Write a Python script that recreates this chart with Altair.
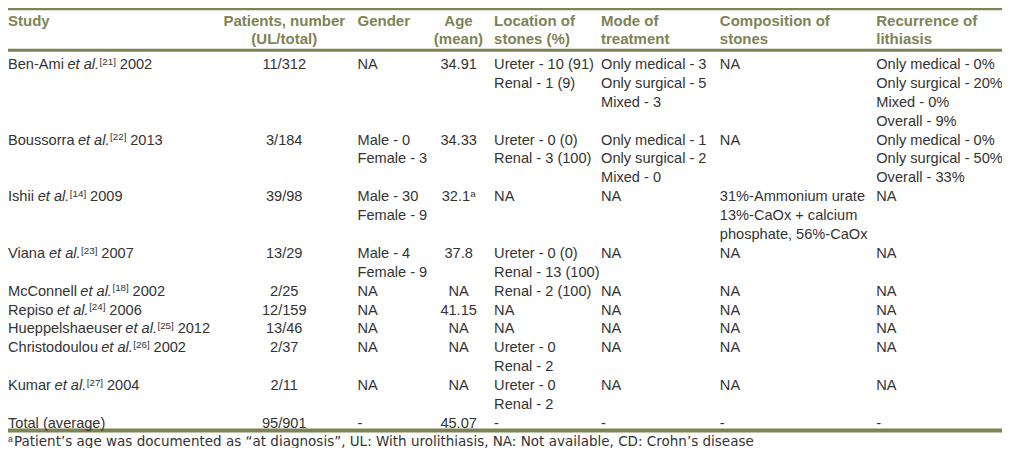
import altair as alt
import pandas as pd

# ---------------- data (cell texts) ----------------
HEADERS = [["Study"], ["Patients, number", "(UL/total)"], ["Gender"], ["Age", "(mean)"],
           ["Location of", "stones (%)"], ["Mode of", "treatment"],
           ["Composition of", "stones"], ["Recurrence of", "lithiasis"]]
AUTHORS = ["Ben-Ami", "Boussorra", "Ishii", "Viana", "McConnell", "Repiso",
           "Hueppelshaeuser", "Christodoulou", "Kumar"]
REFS = ["21", "22", "14", "23", "18", "24", "25", "26", "27"]
YEARS = ["2002", "2013", "2009", "2007", "2002", "2006", "2012", "2002", "2004"]
TOTAL_LABEL = "Total (average)"
PATIENTS = ["11/312", "3/184", "39/98", "13/29", "2/25", "12/159", "13/46", "2/37", "2/11", "95/901"]
GENDER = [["NA"], ["Male - 0", "Female - 3"], ["Male - 30", "Female - 9"], ["Male - 4", "Female - 9"],
          ["NA"], ["NA"], ["NA"], ["NA"], ["NA"], ["-"]]
AGE = ["34.91", "34.33", "32.1", "37.8", "NA", "41.15", "NA", "NA", "NA", "45.07"]
AGE_NOTE = ["", "", "a", "", "", "", "", "", "", ""]
LOCATION = [["Ureter - 10 (91)", "Renal - 1 (9)"], ["Ureter - 0 (0)", "Renal - 3 (100)"], ["NA"],
            ["Ureter - 0 (0)", "Renal - 13 (100)"], ["Renal - 2 (100)"], ["NA"], ["NA"],
            ["Ureter - 0", "Renal - 2"], ["Ureter - 0", "Renal - 2"], ["-"]]
MODE = [["Only medical - 3", "Only surgical - 5", "Mixed - 3"],
        ["Only medical - 1", "Only surgical - 2", "Mixed - 0"],
        ["NA"], ["NA"], ["NA"], ["NA"], ["NA"], ["NA"], ["NA"], ["-"]]
COMPOSITION = [["NA"], ["NA"], ["31%-Ammonium urate", "13%-CaOx + calcium", "phosphate, 56%-CaOx"],
               ["NA"], ["NA"], ["NA"], ["NA"], ["NA"], ["NA"], ["-"]]
RECURRENCE = [["Only medical - 0%", "Only surgical - 20%", "Mixed - 0%", "Overall - 9%"],
              ["Only medical - 0%", "Only surgical - 50%", "Overall - 33%"],
              ["NA"], ["NA"], ["NA"], ["NA"], ["NA"], ["NA"], ["NA"], ["-"]]
FOOT_MARK = "a"
FOOTNOTE = ("Patient\u2019s age was documented as \u201cat diagnosis\u201d, UL: With urolithiasis, "
            "NA: Not available, CD: Crohn\u2019s disease")

# ---------------- layout / style ----------------
FONT = "Liberation Sans"
FOOT_FONT = "DejaVu Sans"
FS, FS_HEAD, FS_SUP, FS_FOOT = 14.6, 15, 9.8, 13.5
OLIVE = "#7e8356"
INK = "#333333"
X_STUDY = 4
X_CENTER = {"patients": 283, "age": 459}
X_LEFT = {"gender": 357, "location": 495, "mode": 603, "composition": 723, "recurrence": 881}
HEAD_Y = [13, 32]
LINE0, LINE_H = 57.5, 19.4
CAP_HALF = 5.2
SUP_RAISE = 4.3
FOOT_Y = 445

# Helvetica / Arial advance widths (1/1000 em)
_W = {' ': 278, '!': 278, '"': 355, '%': 889, '&': 667, "'": 191, '(': 333, ')': 333, '+': 584,
      ',': 278, '-': 333, '.': 278, '/': 278, ':': 278, ';': 278, '[': 278, ']': 278,
      '\u2019': 222, '\u201c': 333, '\u201d': 333}
for c in "0123456789":
    _W[c] = 556
_W.update(dict(zip("ABCDEFGHIJKLMNOPQRSTUVWXYZ",
                   [667, 667, 722, 722, 667, 611, 778, 722, 278, 500, 667, 556, 833, 722, 778,
                    667, 778, 722, 667, 611, 722, 667, 944, 667, 667, 611])))
_W.update(dict(zip("abcdefghijklmnopqrstuvwxyz",
                   [556, 556, 500, 556, 556, 278, 556, 556, 222, 222, 500, 222, 833, 556, 556,
                    556, 556, 333, 500, 278, 556, 500, 722, 500, 500, 500])))


def tw(s, size):
    return sum(_W.get(c, 556) for c in s) * size / 1000.0


items = []


def add(x, y, text, kind):
    items.append({"x": x, "y": y, "text": text, "kind": kind})


# headers
cols = ["study", "patients", "gender", "age", "location", "mode", "composition", "recurrence"]
for key, lines in zip(cols, HEADERS):
    for j, t in enumerate(lines):
        yb = HEAD_Y[j] + CAP_HALF
        if key in X_CENTER:
            add(X_CENTER[key], yb, t, "headC")
        elif key == "study":
            add(X_STUDY, yb, t, "head")
        else:
            add(X_LEFT[key], yb, t, "head")

# body rows
line = 0
n_rows = len(PATIENTS)
for r in range(n_rows):
    yb = LINE0 + LINE_H * line + CAP_HALF
    if r < len(AUTHORS):
        x = X_STUDY
        add(x, yb, AUTHORS[r], "body")
        x += tw(AUTHORS[r] + " ", FS)
        add(x, yb, "et al.", "ital")
        x += tw("et al.", FS) + 0.8
        ref = "[" + REFS[r] + "]"
        add(x, yb - SUP_RAISE, ref, "sup")
        x += tw(ref, FS_SUP) + tw(" ", FS)
        add(x, yb, YEARS[r], "body")
    else:
        add(X_STUDY, yb, TOTAL_LABEL, "body")
    add(X_CENTER["patients"], yb, PATIENTS[r], "bodyC")
    # age, with optional note mark
    wa = tw(AGE[r], FS) + tw(AGE_NOTE[r], FS_SUP)
    xa = X_CENTER["age"] - wa / 2
    add(xa, yb, AGE[r], "body")
    if AGE_NOTE[r]:
        add(xa + tw(AGE[r], FS) + 0.5, yb - SUP_RAISE, AGE_NOTE[r], "sup")
    n_lines = 1
    for key, colvals in [("gender", GENDER), ("location", LOCATION), ("mode", MODE),
                         ("composition", COMPOSITION), ("recurrence", RECURRENCE)]:
        for j, t in enumerate(colvals[r]):
            add(X_LEFT[key], yb + LINE_H * j, t, "body")
        n_lines = max(n_lines, len(colvals[r]))
    line += n_lines

# footnote
fb = FOOT_Y + 4.8
add(X_STUDY, fb - 3.5, FOOT_MARK, "supF")
add(X_STUDY + 6.0, fb, FOOTNOTE, "foot")

df = pd.DataFrame(items)

RULE_Y = [1.0, 43.5, 434.0]
RULE_W = [2.5, 3.0, 4.0]
rules = pd.DataFrame({"y": RULE_Y, "w": RULE_W, "x": [-20] * 3, "x2": [1040] * 3})

XS = alt.Scale(domain=[4, 1008], range=[0, 994], nice=False, zero=False)
YS = alt.Scale(domain=[0, 452], range=[0, 440], nice=False, zero=False)

base = alt.Chart(df).encode(
    x=alt.X("x:Q", scale=XS, axis=None),
    y=alt.Y("y:Q", scale=YS, axis=None),
    text="text:N",
)


def layer(kind, **kw):
    opts = dict(font=FONT, fontSize=FS, color=INK, align="left", baseline="alphabetic")
    opts.update(kw)
    return base.transform_filter(alt.datum.kind == kind).mark_text(**opts)


rule_layer = alt.Chart(rules).mark_rule(color=OLIVE).encode(
    x=alt.X("x:Q", scale=XS, axis=None),
    x2="x2:Q",
    y=alt.Y("y:Q", scale=YS, axis=None),
    size=alt.Size("w:Q", scale=None, legend=None),
)

chart = alt.layer(
    rule_layer,
    layer("head", fontSize=FS_HEAD, fontWeight="bold", color=OLIVE),
    layer("headC", fontSize=FS_HEAD, fontWeight="bold", color=OLIVE, align="center"),
    layer("body"),
    layer("bodyC", align="center"),
    layer("ital", fontStyle="italic"),
    layer("sup", fontSize=FS_SUP),
    layer("supF", fontSize=8.5),
    layer("foot", font=FOOT_FONT, fontSize=FS_FOOT),
).properties(
    width=994, height=440, padding=0, autosize=alt.AutoSizeParams(type="none"),
    background="white",
).configure_view(strokeWidth=0)

chart.save("out.html", embed_options={"renderer": "svg", "actions": False})
